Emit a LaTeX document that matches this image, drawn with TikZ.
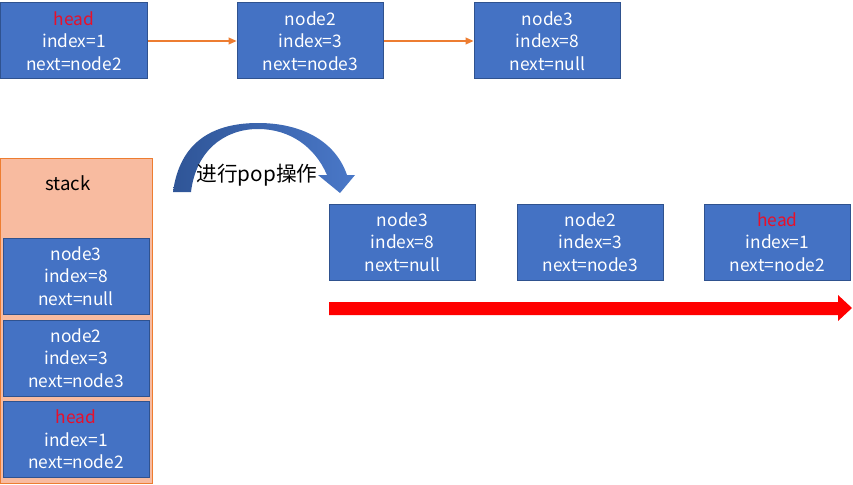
\documentclass[tikz,border=0pt]{standalone}
\usepackage{fontspec}
\setmainfont{Noto Sans CJK SC}
\usetikzlibrary{arrows.meta}
\definecolor{boxblue}{HTML}{4472C4}
\definecolor{boxedge}{HTML}{2F528F}
\definecolor{orangeline}{HTML}{ED7D31}
\definecolor{stackfill}{HTML}{F8BBA0}
\definecolor{headred}{HTML}{E8102A}
\definecolor{arcdark}{HTML}{2F5597}
\definecolor{arclight}{HTML}{4A78C8}
\tikzset{
  nodebox/.style={draw=boxedge, fill=boxblue, line width=0.75pt, minimum width=110pt, minimum height=57pt, inner sep=0pt, align=center, text=white, font=\fontsize{13pt}{16.9pt}\selectfont},
  stackbox/.style={draw=orangeline, fill=stackfill, line width=0.75pt, minimum width=114pt, minimum height=243.75pt, inner sep=0pt},
  link/.style={draw=orangeline, line width=1.2pt, -{Triangle[length=6pt,width=5pt]}},
}
\newcommand{\hd}{\textcolor{headred}{head}}
\begin{document}
\begin{tikzpicture}[x=0.75pt,y=-0.75pt]
\useasboundingbox (0,0) rectangle (853,485);
% top row
\node[nodebox] (t1) at (74,41) {\hd\\index=1\\next=node2};
\node[nodebox] (t2) at (310.5,41) {node2\\index=3\\next=node3};
\node[nodebox] (t3) at (547.5,41) {node3\\index=8\\next=null};
\draw[link] (t1.east) -- (t2.west);
\draw[link] (t2.east) -- (t3.west);
% stack
\node[stackbox] (st) at (76,320.5) {};
\node[font=\fontsize{14pt}{16pt}\selectfont, text=black] (stl) at (68,183) {stack};
\node[nodebox, minimum width=109.5pt] (s1) at (76,276) {node3\\index=8\\next=null};
\node[nodebox, minimum width=109.5pt] (s2) at (76,358) {node2\\index=3\\next=node3};
\node[nodebox, minimum width=109.5pt] (s3) at (76,439.5) {\hd\\index=1\\next=node2};
% bottom row
\node[nodebox] (b1) at (402.5,242) {node3\\index=8\\next=null};
\node[nodebox] (b2) at (590.5,242) {node2\\index=3\\next=node3};
\node[nodebox] (b3) at (777.5,242) {\hd\\index=1\\next=node2};
% red arrow
\fill[red] (329,302) -- (838,302) -- (838,295) -- (852,308) -- (838,321) -- (838,315) -- (329,315) -- cycle;
% curved arrow
\shade[left color=arcdark, right color=arclight]
  (173,192) .. controls (180,140) and (215,123) .. (258,123)
  .. controls (300,123) and (335,140) .. (347,175)
  -- (355,175) -- (340,193) -- (318,175) -- (327,175)
  .. controls (315,147) and (290,129) .. (258,129)
  .. controls (225,129) and (196,150) .. (191,192) -- cycle;
\node[font=\fontsize{15.5pt}{18pt}\selectfont, text=black, inner sep=0pt] (pop) at (257,175) {进行pop操作};
\end{tikzpicture}
\end{document}
